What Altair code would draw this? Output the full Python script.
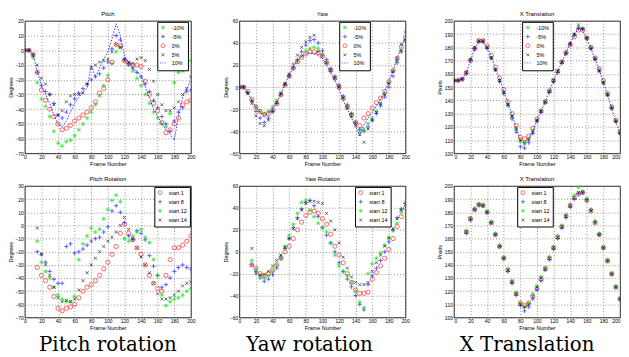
import altair as alt
import pandas as pd

# ---------------- data ----------------
FRAMES_TOP = list(range(0, 201, 5))
FRAMES_BOT = list(range(15, 201, 5))
X_TICKS = list(range(0, 201, 20))

TOP_NAMES = ["-10%", "-5%", "0%", "5%", "10%"]
BOT_NAMES = ["start 1", "start 8", "start 12", "start 14"]
CAPTIONS = ["Pitch rotation", "Yaw rotation", "X Translation"]

# Pitch (top left)
PITCH_M10 = [0, 0, -5, -22, -33, -38, -45, -55, -63, -65, -62, -61, -58, -54, -50, -46, -42, -37, -31, -24,
             -17, -9, -1, 2, -6, -10, -14, -19, -24, -30, -36, -42, -46, -50, -52, -43, -22, -15, -14, -12, -7]
PITCH_M5 = [0, 0, -3, -15, -24, -28, -30, -36, -44, -46, -42, -37, -33, -29, -26, -23, -20, -18, -16, -12,
            -8, 1, 10, 7, -6, -9, -12, -15, -18, -23, -28, -34, -39, -45, -50, -55, -48, -42, -39, -28, -27]
PITCH_0 = [0, 0, -3, -15, -27, -34, -40, -45, -50, -54, -53, -51, -48, -46, -44, -42, -39, -35, -29, -26,
           -20, -8, 4, 3, -7, -9, -10, -10, -11, -21, -30, -36, -41, -49, -56, -54, -50, -46, -37, -35, -34]
PITCH_P5 = [0, 0, -3, -10, -19, -23, -30, -37, -44, -41, -35, -31, -30, -30, -29, -23, -12, -10, -8, -7,
            -6, -1, 4, 2, -7, -8, -9, -6, -5, -7, -13, -21, -30, -37, -41, -41, -39, -35, -30, -26, -18]
PITCH_P10 = [0, 0, -3, -14, -24, -30, -36, -44, -50, -52, -48, -42, -36, -32, -28, -26, -10, -18, -12, -6,
             -1, 8, 18, 10, -4, -8, -12, -15, -17, -25, -32, -40, -45, -50, -54, -57, -61, -45, -32, -26, -20]

# Yaw (top middle)
YAW_M10 = [0, 0, -5, -12, -18, -22, -24, -22, -18, -12, -5, 3, 10, 17, 23, 28, 33, 35, 36, 35,
           30, 22, 15, 8, 0, -10, -18, -25, -33, -40, -38, -33, -28, -22, -15, -6, 4, 14, 24, 33, 42]
YAW_M5 = [0, 0, -5, -13, -22, -28, -32, -28, -22, -15, -7, 2, 10, 18, 25, 32, 38, 42, 43, 40,
          33, 25, 17, 10, 2, -8, -16, -24, -32, -38, -40, -36, -30, -24, -17, -9, 0, 10, 22, 32, 42]
YAW_0 = [0, 0, -4, -11, -18, -22, -25, -24, -21, -15, -7, 2, 10, 17, 23, 27, 30, 32, 32, 31,
         28, 22, 15, 8, 0, -10, -18, -25, -32, -35, -28, -24, -19, -14, -10, -4, 5, 15, 26, 36, 45]
YAW_P5 = [0, 0, -6, -15, -26, -33, -35, -30, -22, -14, -6, 3, 12, 21, 29, 36, 41, 45, 47, 32,
          28, 22, 15, 8, 0, -10, -19, -27, -35, -43, -50, -38, -30, -23, -15, -7, 3, 14, 26, 39, 50]
YAW_P10 = [0, 0, -5, -12, -18, -23, -26, -24, -20, -14, -6, 3, 11, 18, 24, 28, 30, 31, 30, 29,
           26, 20, 13, 6, -2, -12, -20, -28, -36, -44, -34, -28, -23, -17, -11, -4, 5, 15, 26, 36, 46]

# X translation (top right)
XT_M10 = [155, 155, 156, 161, 171, 179, 185, 185, 180, 172, 163, 155, 146, 137, 128, 119, 110, 108, 111, 117,
          125, 132, 139, 147, 155, 162, 169, 176, 183, 190, 195, 194, 187, 180, 172, 163, 154, 145, 135, 125, 116]
XT_M5 = [155, 155, 156, 160, 170, 179, 184, 184, 179, 172, 163, 154, 145, 136, 126, 116, 105, 104, 108, 115,
         124, 131, 138, 146, 154, 161, 168, 175, 182, 189, 194, 194, 187, 179, 171, 162, 153, 144, 134, 124, 115]
XT_0 = [155, 155, 156, 161, 170, 179, 185, 185, 181, 174, 165, 157, 148, 139, 130, 121, 112, 111, 113, 119,
        126, 132, 139, 147, 155, 162, 169, 176, 182, 188, 193, 193, 187, 180, 172, 164, 155, 145, 135, 125, 116]
XT_P5 = [155, 155, 156, 161, 171, 180, 185, 185, 180, 172, 163, 155, 146, 137, 128, 118, 109, 107, 110, 116,
         125, 132, 139, 147, 155, 162, 169, 176, 183, 190, 197, 194, 187, 179, 171, 162, 153, 144, 134, 124, 115]
XT_P10 = [155, 155, 156, 161, 170, 179, 185, 184, 180, 173, 164, 156, 147, 138, 129, 119, 110, 108, 111, 117,
          125, 132, 139, 147, 155, 162, 169, 176, 183, 189, 195, 193, 186, 179, 171, 163, 154, 144, 134, 124, 115]

# Pitch rotation (bottom left)
PR_S1 = [-32, -38, -42, -47, -54, -63, -65, -63, -62, -60, -55, -50, -47, -45, -42, -38, -33, -28, -22, -16,
         -6, 1, -6, -11, -17, -22, -30, -38, -44, -48, -50, -38, -26, -17, -17, -15, -12, -8]
PR_S8 = [-20, -22, -28, -35, -41, -44, -44, -16, -14, -21, -20, -18, -15, -12, -10, -9, -5, -1, 11, 15,
         10, 2, -8, -11, -4, -6, -11, -23, -31, -38, -47, -45, -40, -35, -32, -30, -32, -33]
PR_S12 = [-12, -28, -35, -40, -47, -53, -56, -58, -58, -54, -26, -14, -8, -2, -5, -3, 5, 12, 19, 23,
          18, -10, -12, -8, -5, -3, -9, -13, -26, -38, -53, -61, -58, -56, -55, -53, -50, -48]
PR_S14 = [-2, -22, -30, -38, -47, -55, -58, -57, -58, -56, -49, -42, -36, -30, -25, -20, -16, -12, -9, -5,
          0, 6, -3, -10, -17, -24, -30, -36, -44, -52, -56, -56, -55, -53, -50, -46, -44, -43]

# Yaw rotation (bottom middle)
YR_S1 = [-12, -15, -20, -22, -20, -17, -12, -6, 0, 5, 12, 20, 27, 33, 36, 37, 35, 30, 25, 16,
         5, -3, -10, -20, -28, -35, -38, -38, -37, -25, -19, -13, -6, 2, 12, 23, 32, 40]
YR_S8 = [-12, -18, -24, -27, -25, -21, -15, -6, 3, 12, 22, 31, 39, 45, 47, 42, 32, 22, 15, 8,
         0, -10, -18, -25, -32, -40, -48, -53, -30, -22, -15, -8, 0, 9, 20, 31, 39, 44]
YR_S12 = [-8, -16, -22, -24, -22, -18, -12, -4, 5, 15, 25, 35, 45, 47, 38, 32, 26, 22, 18, 8,
          -3, -13, -18, -22, -28, -36, -46, -51, -20, -11, -6, -1, 6, 12, 19, 26, 36, 45]
YR_S14 = [3, -20, -21, -21, -18, -13, -8, -3, 4, 12, 21, 30, 38, 44, 46, 46, 45, 44, 35, 28,
          20, 8, -5, -15, -23, -28, -30, -30, -28, -18, -10, -3, 5, 13, 21, 30, 38, 43]

# X translation (bottom right)
XB_S1 = [165, 175, 182, 186, 185, 180, 172, 163, 154, 145, 136, 127, 118, 111, 109, 111, 116, 122, 129, 137,
         145, 153, 161, 169, 177, 185, 191, 194, 195, 189, 181, 172, 163, 153, 143, 133, 123, 114]
XB_S8 = [164, 174, 182, 185, 185, 180, 172, 163, 154, 145, 135, 126, 117, 109, 105, 108, 114, 121, 128, 136,
         144, 152, 160, 168, 176, 184, 190, 194, 195, 190, 182, 173, 163, 153, 143, 133, 123, 114]
XB_S12 = [166, 176, 183, 186, 186, 181, 173, 164, 155, 146, 137, 128, 119, 111, 108, 111, 118, 124, 131, 138,
          146, 154, 162, 170, 178, 186, 193, 199, 196, 190, 182, 173, 164, 154, 144, 134, 124, 115]
XB_S14 = [165, 175, 182, 186, 185, 180, 172, 163, 154, 145, 136, 127, 118, 110, 108, 110, 116, 123, 130, 137,
          145, 153, 161, 169, 177, 185, 191, 195, 195, 189, 181, 172, 163, 153, 143, 133, 123, 114]

# ---------------- styling ----------------
GREEN, BLUE, RED, BLACK = "#00e000", "#0000ff", "#ff0000", "#000000"
STAR = "M-1,0L1,0M0,-1L0,1M-0.7,-0.7L0.7,0.7M-0.7,0.7L0.7,-0.7"
PLUS = "M-1,0L1,0M0,-1L0,1"
CROSS = "M-0.7,-0.7L0.7,0.7M-0.7,0.7L0.7,-0.7"
DASH = "M-1.6,0L-1.0,0M-0.4,0L0.2,0M0.8,0L1.4,0"

TOP_COLORS = [GREEN, BLUE, RED, BLACK, BLUE]
TOP_SHAPES = [STAR, PLUS, "circle", CROSS, DASH]
BOT_COLORS = [RED, BLUE, GREEN, BLACK]
BOT_SHAPES = ["circle", PLUS, STAR, CROSS]

FONT = "Liberation Sans"
W = 168
H_TOP = 134
H_BOT = 133


def long_frame(frames, names, arrays):
    rows = []
    for name, arr in zip(names, arrays):
        for f, v in zip(frames, arr):
            rows.append({"frame": f, "value": v, "series": name})
    return pd.DataFrame(rows)


def panel(title, y_title, y_domain, y_ticks, frames, names, arrays, colors, shapes,
          legend_xy, height, line=None, flush=False):
    df = long_frame(frames, names, arrays)
    x = alt.X("frame:Q", scale=alt.Scale(domain=[0, 200], nice=False, zero=False),
              axis=alt.Axis(values=X_TICKS, title="Frame Number", labelFlush=flush))
    y = alt.Y("value:Q", scale=alt.Scale(domain=y_domain, nice=False, zero=False),
              axis=alt.Axis(values=y_ticks, title=y_title))
    legend = alt.Legend(orient="none", legendX=legend_xy[0], legendY=legend_xy[1], title=None,
                        fillColor="white", strokeColor="black", padding=3,
                        labelFont=FONT, labelFontSize=5.5, labelOffset=6,
                        symbolSize=16, symbolStrokeWidth=0.8, rowPadding=1.2)
    pts = alt.Chart(df).mark_point(filled=False, size=18, strokeWidth=0.85, clip=True).encode(
        x=x, y=y,
        color=alt.Color("series:N", scale=alt.Scale(domain=names, range=colors), legend=legend),
        shape=alt.Shape("series:N", scale=alt.Scale(domain=names, range=shapes), legend=legend),
    )
    layers = [pts]
    if line is not None:
        ldf = pd.DataFrame({"frame": frames, "value": line})
        layers.append(alt.Chart(ldf).mark_line(color=BLUE, strokeDash=[1.5, 1.5], strokeWidth=0.8,
                                               clip=True).encode(x=x, y=y))
    return alt.layer(*layers).properties(
        width=W, height=height,
        title=alt.TitleParams(title, fontSize=6, fontWeight="normal", font=FONT, offset=2),
        view=alt.ViewBackground(stroke="black", strokeWidth=0.8),
    )


p1 = panel("Pitch", "Degrees", [-70, 20], list(range(-70, 21, 10)), FRAMES_TOP, TOP_NAMES,
           [PITCH_M10, PITCH_M5, PITCH_0, PITCH_P5], TOP_COLORS, TOP_SHAPES, (134, 1), H_TOP, line=PITCH_P10)
p2 = panel("Yaw", "Degrees", [-60, 60], list(range(-60, 61, 20)), FRAMES_TOP, TOP_NAMES,
           [YAW_M10, YAW_M5, YAW_0, YAW_P5], TOP_COLORS, TOP_SHAPES, (101, 1), H_TOP, line=YAW_P10)
p3 = panel("X Translation", "Pixels", [100, 200], list(range(100, 201, 10)), FRAMES_TOP, TOP_NAMES,
           [XT_M10, XT_M5, XT_0, XT_P5], TOP_COLORS, TOP_SHAPES, (69, 1), H_TOP, line=XT_P10, flush=True)

p4 = panel("Pitch Rotation", "Degrees", [-70, 30], list(range(-70, 31, 10)), FRAMES_BOT, BOT_NAMES,
           [PR_S1, PR_S8, PR_S12, PR_S14], BOT_COLORS, BOT_SHAPES, (131, 1), H_BOT)
p5 = panel("Yaw Rotation", "Degrees", [-60, 60], list(range(-60, 61, 20)), FRAMES_BOT, BOT_NAMES,
           [YR_S1, YR_S8, YR_S12, YR_S14], BOT_COLORS, BOT_SHAPES, (117, 1), H_BOT)
p6 = panel("X Translation", "Pixels", [100, 200], list(range(100, 201, 10)), FRAMES_BOT, BOT_NAMES,
           [XB_S1, XB_S8, XB_S12, XB_S14], BOT_COLORS, BOT_SHAPES, (64, 1), H_BOT, flush=True)


def caption(i, dx):
    cdf = pd.DataFrame({"caption": [CAPTIONS[i]]})
    return alt.Chart(cdf).mark_text(font="DejaVu Serif", fontSize=20, baseline="alphabetic",
                                    dx=dx, dy=0, color="black").encode(
        text="caption:N"
    ).properties(width=W, height=2, view=alt.ViewBackground(stroke="transparent"))


chart = alt.concat(
    p1, p2, p3, p4, p5, p6, caption(0, 0), caption(1, -13), caption(2, -10),
    columns=3, spacing={"row": 33, "column": 49}, bounds="flush",
).resolve_scale(color="independent", shape="independent").resolve_legend(
    color="independent", shape="independent"
).properties(padding=0).configure_axis(
    labelFont=FONT, titleFont=FONT, labelFontSize=5, titleFontSize=5.5, titleFontWeight="normal",
    labelColor="black", titleColor="black", ticks=False, domain=False,
    labelPadding=1.5, titlePadding=1.5,
    grid=True, gridColor="#333333", gridDash=[1, 2], gridWidth=0.6, gridOpacity=0.9,
).configure_view(stroke="black", strokeWidth=0.8)

chart.save("out.html", embed_options={"renderer": "svg", "actions": False})
